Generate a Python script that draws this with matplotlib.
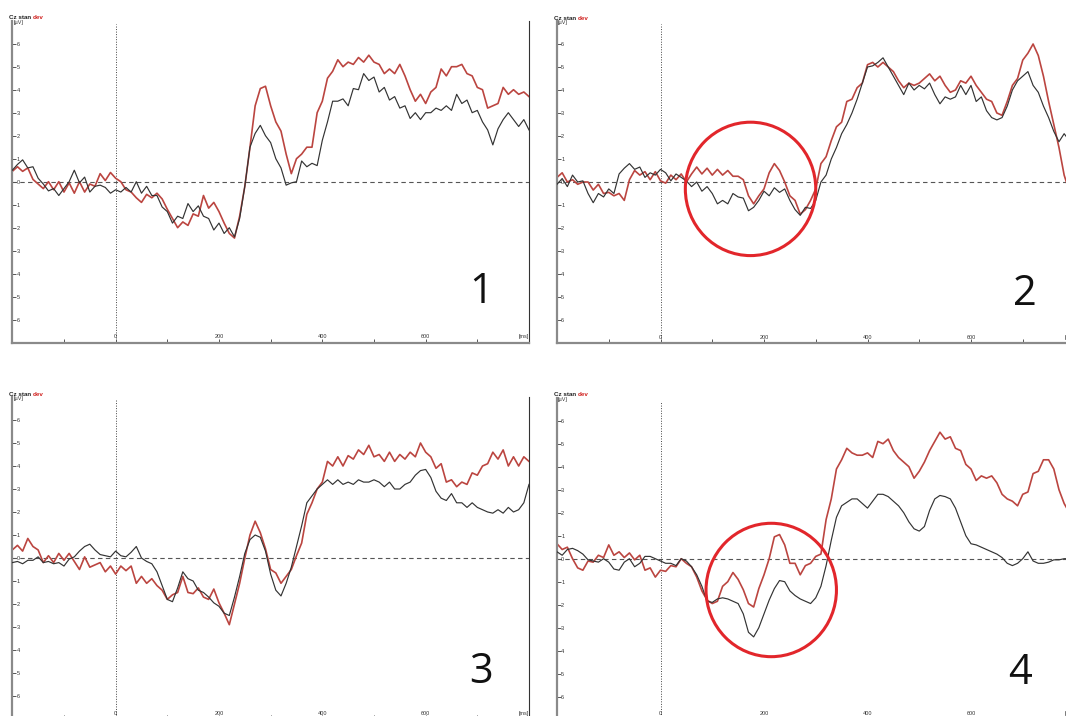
import numpy as np
import matplotlib.pyplot as plt
from matplotlib.patches import Ellipse

# time axis, ms (sampled every 10 ms, -200..800)
t = np.arange(-200, 801, 10)

# panel 1
p1_stan = [0.5, 0.75, 0.95, 0.6, 0.65, 0.15, -0.1, -0.4, -0.3, -0.6,
           -0.3, 0.0, 0.5, -0.05, 0.2, -0.45, -0.2, -0.15, -0.25, -0.5,
           -0.35, -0.45, -0.25, -0.45, 0.0, -0.5, -0.2, -0.6, -0.6, -1.1,
           -1.3, -1.8, -1.5, -1.6, -0.95, -1.3, -1.05, -1.5, -1.6, -2.1,
           -1.8, -2.25, -2.0, -2.4, -1.6, -0.2, 1.5, 2.1, 2.45, 2.0,
           1.7, 1.0, 0.6, -0.15, -0.05, 0.0, 0.9, 0.65, 0.8, 0.7,
           1.8, 2.6, 3.5, 3.5, 3.6, 3.3, 4.05, 4.0, 4.7, 4.4,
           4.55, 3.9, 4.1, 3.55, 3.7, 3.2, 3.3, 2.75, 3.0, 2.7,
           3.0, 3.0, 3.2, 3.1, 3.3, 3.1, 3.8, 3.4, 3.55, 3.0,
           3.1, 2.6, 2.25, 1.6, 2.3, 2.7, 3.0, 2.7, 2.4, 2.7,
           2.25]
p1_dev = [0.45, 0.65, 0.45, 0.6, 0.1, -0.1, -0.3, 0.0, -0.35, 0.0,
          -0.45, -0.05, -0.5, 0.0, -0.45, -0.1, -0.2, 0.35, 0.05, 0.4,
          0.15, 0.0, -0.35, -0.45, -0.7, -0.9, -0.55, -0.7, -0.5, -0.75,
          -1.2, -1.6, -2.0, -1.75, -1.9, -1.4, -1.5, -0.6, -1.15, -0.9,
          -1.3, -1.8, -2.25, -2.45, -1.5, -0.2, 1.5, 3.3, 4.05, 4.15,
          3.3, 2.6, 2.2, 1.2, 0.35, 1.0, 1.2, 1.5, 1.5, 3.0,
          3.5, 4.5, 4.8, 5.3, 5.0, 5.2, 5.1, 5.4, 5.2, 5.5,
          5.2, 5.1, 4.7, 4.9, 4.7, 5.1, 4.6, 4.0, 3.5, 3.8,
          3.4, 3.9, 4.1, 4.9, 4.6, 5.0, 5.0, 5.1, 4.7, 4.6,
          4.1, 4.0, 3.2, 3.3, 3.4, 4.1, 3.8, 4.0, 3.8, 3.9,
          3.7]

# panel 2
p2_stan = [-0.1, 0.15, -0.2, 0.3, 0.0, 0.05, -0.5, -0.9, -0.5, -0.65,
           -0.3, -0.5, 0.35, 0.6, 0.8, 0.55, 0.65, 0.2, 0.4, 0.3,
           0.55, 0.4, 0.05, 0.35, 0.2, 0.05, -0.2, 0.0, -0.4, -0.2,
           -0.5, -0.95, -0.8, -0.95, -0.5, -0.65, -0.7, -1.25, -1.1, -0.8,
           -0.4, -0.6, -0.25, -0.45, -0.3, -0.8, -1.2, -1.45, -1.1, -1.15,
           -0.8, 0.0, 0.3, 1.0, 1.5, 2.1, 2.5, 3.0, 3.6, 4.3,
           5.0, 5.05, 5.2, 5.4, 5.0, 4.6, 4.2, 3.8, 4.3, 4.0,
           4.2, 4.05, 4.3, 3.8, 3.4, 3.7, 3.6, 3.7, 4.2, 3.8,
           4.2, 3.5, 3.7, 3.1, 2.8, 2.7, 2.8, 3.3, 4.0, 4.4,
           4.6, 4.8, 4.2, 3.9, 3.3, 2.8, 2.2, 1.75, 2.1, 1.8,
           1.2]
p2_dev = [0.2, 0.4, 0.0, 0.1, -0.1, 0.0, 0.0, -0.35, -0.1, -0.5,
          -0.45, -0.6, -0.5, -0.8, 0.1, 0.5, 0.3, 0.45, 0.1, 0.45,
          0.05, -0.05, 0.3, 0.1, 0.35, 0.0, 0.35, 0.65, 0.35, 0.6,
          0.3, 0.55, 0.3, 0.5, 0.25, 0.25, 0.1, -0.6, -0.95, -0.6,
          -0.3, 0.4, 0.8, 0.5, 0.0, -0.6, -0.8, -1.4, -1.2, -0.8,
          -0.3, 0.8, 1.1, 1.8, 2.4, 2.6, 3.5, 3.6, 4.1, 4.3,
          5.1, 5.2, 5.0, 5.2, 5.0, 4.8, 4.4, 4.1, 4.3, 4.2,
          4.3, 4.5, 4.7, 4.4, 4.6, 4.2, 3.9, 4.0, 4.4, 4.3,
          4.6, 4.2, 3.9, 3.6, 3.5, 3.0, 2.9, 3.5, 4.2, 4.5,
          5.3, 5.6, 6.0, 5.5, 4.6, 3.5, 2.5, 1.5, 0.3, -0.4,
          -1.0]

# panel 3
p3_stan = [-0.2, -0.15, -0.25, -0.1, -0.1, 0.05, -0.2, -0.15, -0.25, -0.2,
           -0.35, -0.05, 0.05, 0.3, 0.5, 0.6, 0.35, 0.15, 0.1, 0.05,
           0.3, 0.1, 0.05, 0.25, 0.5, 0.0, -0.15, -0.25, -0.6, -1.2,
           -1.8, -1.9, -1.3, -0.6, -0.9, -1.0, -1.4, -1.5, -1.7, -1.95,
           -2.1, -2.4, -2.5, -1.7, -0.8, 0.2, 0.8, 1.0, 0.9, 0.3,
           -0.7, -1.4, -1.65, -1.1, -0.4, 0.5, 1.4, 2.4, 2.7, 3.0,
           3.2, 3.4, 3.2, 3.4, 3.2, 3.3, 3.2, 3.4, 3.3, 3.3,
           3.4, 3.3, 3.1, 3.3, 3.0, 3.0, 3.2, 3.3, 3.6, 3.8,
           3.85, 3.5, 2.9, 2.6, 2.5, 2.8, 2.4, 2.4, 2.2, 2.4,
           2.2, 2.1, 2.0, 1.95, 2.1, 1.95, 2.2, 2.0, 2.1, 2.4,
           3.2]
p3_dev = [0.35, 0.55, 0.3, 0.85, 0.5, 0.35, -0.2, 0.1, -0.2, 0.2,
          -0.1, 0.2, -0.15, -0.5, 0.05, -0.4, -0.3, -0.2, -0.6, -0.35,
          -0.7, -0.35, -0.55, -0.35, -1.1, -0.8, -1.1, -0.9, -1.2, -1.4,
          -1.8, -1.6, -1.5, -0.8, -1.5, -1.55, -1.3, -1.7, -1.8, -1.35,
          -1.95, -2.4, -2.9, -2.0, -1.1, 0.0, 1.0, 1.6, 1.1, 0.4,
          -0.5, -0.65, -1.1, -0.8, -0.5, 0.1, 0.65, 1.9, 2.4, 3.0,
          3.3, 4.2, 4.0, 4.4, 4.0, 4.45, 4.3, 4.7, 4.5, 4.9,
          4.4, 4.5, 4.2, 4.6, 4.2, 4.5, 4.3, 4.6, 4.4, 5.0,
          4.6, 4.4, 3.9, 4.1, 3.3, 3.4, 3.1, 3.3, 3.2, 3.7,
          3.6, 4.0, 4.1, 4.6, 4.3, 4.7, 4.0, 4.4, 4.0, 4.4,
          4.2]

# panel 4
p4_stan = [0.3, 0.15, 0.4, 0.45, 0.35, 0.2, -0.05, -0.1, -0.15, 0.0,
           -0.15, -0.45, -0.5, -0.15, 0.0, -0.35, -0.2, 0.1, 0.1, 0.0,
           -0.1, -0.2, -0.2, -0.3, 0.0, -0.1, -0.35, -0.7, -1.2, -1.85,
           -1.9, -1.75, -1.7, -1.75, -1.85, -1.95, -2.4, -3.2, -3.4, -3.0,
           -2.4, -1.8, -1.3, -0.95, -1.0, -1.4, -1.6, -1.75, -1.85, -1.95,
           -1.7, -1.2, -0.3, 0.8, 1.8, 2.3, 2.45, 2.6, 2.6, 2.4,
           2.2, 2.5, 2.8, 2.8, 2.7, 2.5, 2.3, 2.0, 1.6, 1.3,
           1.2, 1.4, 2.1, 2.6, 2.75, 2.7, 2.6, 2.2, 1.6, 1.0,
           0.65, 0.6, 0.5, 0.4, 0.3, 0.2, 0.05, -0.2, -0.3, -0.2,
           0.0, 0.3, -0.1, -0.2, -0.2, -0.15, -0.05, -0.05, 0.0, 0.0,
           0.0]
p4_dev = [0.65, 0.4, 0.5, 0.0, -0.4, -0.5, -0.1, -0.15, 0.15, 0.05,
          0.6, 0.15, 0.3, 0.05, 0.25, -0.05, 0.15, -0.5, -0.4, -0.8,
          -0.5, -0.55, -0.3, -0.35, 0.0, -0.2, -0.35, -0.8, -1.4, -1.8,
          -1.95, -1.85, -1.2, -1.0, -0.6, -0.9, -1.35, -1.95, -2.1, -1.3,
          -0.7, 0.0, 0.95, 1.05, 0.6, -0.2, -0.2, -0.7, -0.3, -0.2,
          0.1, 0.2, 1.7, 2.6, 3.9, 4.3, 4.8, 4.6, 4.5, 4.5,
          4.6, 4.4, 5.1, 5.0, 5.2, 4.7, 4.4, 4.2, 4.0, 3.5,
          3.8, 4.2, 4.7, 5.1, 5.5, 5.2, 5.3, 4.8, 4.7, 4.1,
          3.9, 3.4, 3.6, 3.5, 3.6, 3.3, 2.8, 2.6, 2.5, 2.3,
          2.8, 2.9, 3.7, 3.8, 4.3, 4.3, 3.9, 3.0, 2.4, 2.0,
          1.8]

panel_numbers = ['1', '2', '3', '4']
# red circles: (centre ms, centre uV) or None
circles = [None, (174, -0.3), None, (214, -1.36)]

yticks = [-6, -5, -4, -3, -2, -1, 0, 1, 2, 3, 4, 5, 6]
ytick_labels = ['6', '5', '4', '3', '2', '1', '0', '1', '2', '3', '4', '5', '6']
xticks = [0, 200, 400, 600, 800]
xtick_labels = ['0', '200', '400', '600', '[ms]']
xminor = [-100, 100, 300, 500, 700]

W, H = 1066, 716
fig = plt.figure(figsize=(W / 100, H / 100), dpi=100)
fig.patch.set_facecolor('white')


def rect(left, top, w, h):
    return [left / W, 1 - (top + h) / H, w / W, h / H]


boxes = [rect(12.3, 20.7, 516.7, 322), rect(557, 21, 517.5, 322),
         rect(12.3, 397, 516.7, 322), rect(557, 397.7, 517.5, 322)]
stan_all = [p1_stan, p2_stan, p3_stan, p4_stan]
dev_all = [p1_dev, p2_dev, p3_dev, p4_dev]
num_pos = [(0.907, 0.157), (0.904, 0.151), (0.907, 0.146), (0.895, 0.146)]

black = '#333333'
red = '#bb4540'

for i in range(4):
    ax = fig.add_axes(boxes[i])
    ax.set_xlim(-200, 800)
    ax.set_ylim(-7, 7)

    ax.axhline(0, color='#555555', lw=0.8, ls=(0, (4, 3)), zorder=1)
    ax.axvline(0, ymax=0.99, color='#444444', lw=0.7, ls=(0, (1, 1.6)), zorder=1)

    ax.plot(t, stan_all[i], color=black, lw=0.85, zorder=3)
    ax.plot(t, dev_all[i], color=red, lw=1.2, zorder=2)

    if circles[i] is not None:
        ax.add_patch(Ellipse(circles[i], width=252, height=5.8, fill=False,
                             ec='#e2262b', lw=2.2, zorder=4))

    ax.spines['top'].set_visible(False)
    ax.spines['left'].set_color('#8a8a8a')
    ax.spines['left'].set_linewidth(1.6)
    ax.spines['bottom'].set_color('#8a8a8a')
    ax.spines['bottom'].set_linewidth(1.6)
    ax.spines['right'].set_color('#333333')
    ax.spines['right'].set_linewidth(0.8)

    ax.set_yticks(yticks)
    ax.set_yticklabels(ytick_labels)
    ax.set_xticks(xticks)
    ax.set_xticklabels(xtick_labels)
    ax.set_xticks(xminor, minor=True)
    ax.tick_params(axis='both', which='both', direction='in', length=3, width=0.7,
                   color='#555555', labelsize=4, labelcolor='#333333')
    ax.tick_params(axis='y', pad=-3)
    ax.tick_params(axis='x', pad=-6)
    for lbl in ax.get_yticklabels():
        lbl.set_horizontalalignment('left')
        lbl.set_fontfamily('Liberation Sans')
    for lbl in ax.get_xticklabels():
        lbl.set_fontfamily('Liberation Sans')
    ax.get_xticklabels()[-1].set_horizontalalignment('right')

    hdr = ax.text(-0.006, 1.009, 'Cz stan ', transform=ax.transAxes, fontsize=4.5,
                  family='Liberation Sans', fontweight='bold', color='#222222',
                  va='center', ha='left')
    ax.annotate('dev', xy=(1, 0), xycoords=hdr, va='bottom', ha='left', fontsize=4.5,
                family='Liberation Sans', fontweight='bold', color='#d0201e')
    ax.text(0.002, 0.994, '[µV]', transform=ax.transAxes, fontsize=4,
            family='Liberation Sans', color='#333333', va='center', ha='left')

    ax.text(num_pos[i][0], num_pos[i][1], panel_numbers[i], transform=ax.transAxes,
            fontsize=30, family='Open Sans', color='#111111', ha='center', va='center')

fig.savefig('out.png', dpi=100)
